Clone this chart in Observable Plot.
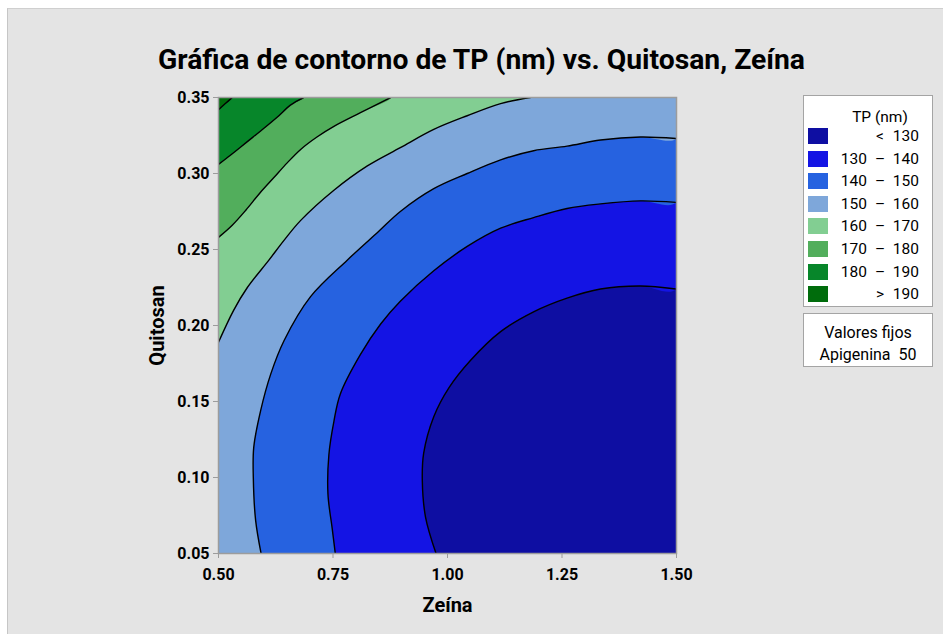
<!DOCTYPE html>
<html lang="es">
<head>
<meta charset="utf-8">
<title>Gráfica de contorno de TP (nm)</title>
<script src="https://cdn.jsdelivr.net/npm/d3@7"></script>
<script src="https://cdn.jsdelivr.net/npm/@observablehq/plot@0.6"></script>
<style>
  html, body { margin: 0; padding: 0; background: #ffffff; }
  #page { position: relative; width: 943px; height: 634px; overflow: hidden; font-family: Roboto, "Noto Sans", sans-serif; }
  #panel { position: absolute; left: 7px; top: 8px; right: 0; bottom: 0; background: #e4e4e4;
           border-left: 1px solid #c6c6c6; border-top: 1px solid #cfcfcf; }
  #title { position: absolute; left: 0; top: 0; }
  #chart { position: absolute; left: 0; top: 0; }
  .box { position: absolute; box-sizing: border-box; background: #ffffff; border: 1px solid #a4a4a4; color: #000; }
  #legend { left: 803px; top: 95px; width: 130px; height: 212px; }
  #fixed { left: 803px; top: 313px; width: 130px; height: 54px; font-size: 16px; text-align: center; line-height: 22px; padding-top: 8px; }
  .lg-head { position: absolute; left: 0; width: 100%; top: 12px; text-align: center; padding-left: 24px; box-sizing: border-box; font-size: 15.5px; }
  .lg-row { position: absolute; left: 0; width: 128px; height: 18px; font-size: 15.5px; line-height: 18px; }
  .lg-sw { position: absolute; left: 4px; top: 1px; width: 20px; height: 16px; }
  .lg-a { position: absolute; right: 65px; text-align: right; }
  .lg-d { position: absolute; left: 70px; width: 12px; text-align: center; }
  .lg-b { position: absolute; right: 13px; text-align: right; }
</style>
</head>
<body>
<div id="page">
  <div id="panel"></div>
  <svg id="title" width="943" height="90"></svg>
  <div id="chart"></div>
  <div id="legend" class="box"></div>
  <div id="fixed" class="box"><div>Valores fijos</div><div>Apigenina&nbsp; 50</div></div>
</div>
<script>
// Contour levels of TP (nm) and the fill colour of each band (< 130 ... > 190)
const levels = [130, 140, 150, 160, 170, 180, 190];
const bandColors = ["#0e0ea2", "#1414e4", "#2662e0", "#7ea7da", "#82ce92", "#52ae5c", "#07862a", "#006c0c"];

// Axis extents and ticks
const zeinaDomain = [0.5, 1.5];
const quitosanDomain = [0.05, 0.35];
const zeinaTicks = [0.5, 0.75, 1.0, 1.25, 1.5];
const quitosanTicks = [0.05, 0.10, 0.15, 0.20, 0.25, 0.30, 0.35];

// Contour lines as [Zeína, Quitosan] points, each running from its
// bottom/left end to its right/top end
const contour130 = [[0.975, 0.050], [0.952, 0.074], [0.945, 0.098], [0.948, 0.116], [0.970, 0.140],
  [1.003, 0.159], [1.050, 0.177], [1.116, 0.196], [1.188, 0.209], [1.261, 0.218], [1.334, 0.224],
  [1.421, 0.226], [1.500, 0.224]];
const contour140 = [[0.755, 0.050], [0.748, 0.067], [0.739, 0.089], [0.741, 0.115], [0.752, 0.137],
  [0.766, 0.155], [0.810, 0.181], [0.854, 0.201], [0.897, 0.216], [0.970, 0.236], [1.043, 0.252],
  [1.116, 0.264], [1.188, 0.271], [1.261, 0.277], [1.334, 0.280], [1.421, 0.282], [1.500, 0.281]];
const contour150 = [[0.593, 0.050], [0.581, 0.072], [0.576, 0.100], [0.577, 0.120], [0.592, 0.144],
  [0.614, 0.168], [0.643, 0.190], [0.701, 0.219], [0.781, 0.243], [0.850, 0.262], [0.897, 0.275],
  [0.970, 0.290], [1.043, 0.300], [1.116, 0.309], [1.188, 0.315], [1.261, 0.318], [1.334, 0.322],
  [1.421, 0.324], [1.500, 0.323]];
const contour160 = [[0.500, 0.189], [0.533, 0.210], [0.563, 0.225], [0.610, 0.243], [0.643, 0.256],
  [0.679, 0.269], [0.752, 0.289], [0.825, 0.305], [0.897, 0.317], [0.970, 0.329], [1.043, 0.338],
  [1.116, 0.346], [1.181, 0.350]];
const contour170 = [[0.500, 0.258], [0.530, 0.266], [0.560, 0.276], [0.590, 0.287], [0.620, 0.297],
  [0.650, 0.307], [0.680, 0.316], [0.715, 0.324], [0.752, 0.331], [0.810, 0.340], [0.876, 0.350]];
const contour180 = [[0.500, 0.306], [0.526, 0.312], [0.563, 0.321], [0.592, 0.328], [0.628, 0.337],
  [0.657, 0.345], [0.686, 0.350]];
const contour190 = [[0.500, 0.342], [0.515, 0.346], [0.530, 0.350]];

const contours = [contour130, contour140, contour150, contour160, contour170, contour180, contour190];

// Region above a level: the contour closed along the frame through the top-left corner
function regionAbove(points) {
  const [x0, x1] = zeinaDomain, [y0, y1] = quitosanDomain;
  const ring = points.map(([x, y]) => ({x, y}));
  const first = ring[0], last = ring[ring.length - 1];
  if (last.x >= x1) ring.push({x: x1, y: y1});
  ring.push({x: x0, y: y1});
  if (first.y <= y0) ring.push({x: x0, y: y0});
  return ring;
}

const fills = contours.map((c, i) =>
  Plot.line(regionAbove(c), {x: "x", y: "y", fill: bandColors[i + 1], stroke: "none", curve: "catmull-rom", clip: true}));
const lines = contours.map((c) =>
  Plot.line(c, {x: (d) => d[0], y: (d) => d[1], stroke: "#000", strokeWidth: 1.4, curve: "catmull-rom", clip: true}));

const chart = Plot.plot({
  width: 720,
  height: 634,
  marginLeft: 218,
  marginRight: 44,
  marginTop: 97,
  marginBottom: 81,
  style: {background: "transparent", color: "#000", fontFamily: "Roboto, 'Noto Sans', sans-serif"},
  x: {domain: zeinaDomain},
  y: {domain: quitosanDomain},
  marks: [
    Plot.frame({fill: bandColors[0], stroke: "none"}),
    ...fills,
    ...lines,
    Plot.frame({stroke: "#9c9c9c", strokeWidth: 1.5}),
    Plot.axisX({ticks: zeinaTicks, tickFormat: (d) => d.toFixed(2), tickSize: 5, tickPadding: 10,
      stroke: "#9c9c9c", fill: "#000", fontSize: 16, fontWeight: "bold", label: null}),
    Plot.axisY({ticks: quitosanTicks, tickFormat: (d) => d.toFixed(2), tickSize: 5, tickPadding: 4,
      stroke: "#9c9c9c", fill: "#000", fontSize: 16, fontWeight: "bold", label: null}),
    Plot.text(["Zeína"], {frameAnchor: "bottom", dy: 58, text: (d) => d, fontSize: 20, fontWeight: "bold", fill: "#000"}),
    Plot.text(["Quitosan"], {frameAnchor: "left", dx: -61, rotate: -90, textAnchor: "middle", text: (d) => d,
      fontSize: 20, fontWeight: "bold", fill: "#000"})
  ]
});
document.getElementById("chart").appendChild(chart);

// Title
const title = d3.select("#title");
title.append("text")
  .attr("x", 481.5).attr("y", 69)
  .attr("text-anchor", "middle")
  .attr("textLength", 647).attr("lengthAdjust", "spacingAndGlyphs")
  .style("font-family", "Roboto, 'Noto Sans', sans-serif")
  .style("font-weight", "bold").style("font-size", "28px")
  .text("Gráfica de contorno de TP (nm) vs. Quitosan, Zeína");

// Legend: one row per band, built from the levels and colours
const legend = d3.select("#legend");
legend.append("div").attr("class", "lg-head").text("TP (nm)");
const rows = bandColors.map((color, i) => ({
  color,
  lo: i === 0 ? null : levels[i - 1],
  hi: i === levels.length ? null : levels[i]
}));
rows.forEach((r, i) => {
  const row = legend.append("div").attr("class", "lg-row").style("top", `${31 + i * 22.6}px`);
  row.append("div").attr("class", "lg-sw").style("background", r.color);
  if (r.lo == null) {
    row.append("span").attr("class", "lg-d").text("<");
    row.append("span").attr("class", "lg-b").text(r.hi);
  } else if (r.hi == null) {
    row.append("span").attr("class", "lg-d").text(">");
    row.append("span").attr("class", "lg-b").text(r.lo);
  } else {
    row.append("span").attr("class", "lg-a").text(r.lo);
    row.append("span").attr("class", "lg-d").text("–");
    row.append("span").attr("class", "lg-b").text(r.hi);
  }
});
</script>
</body>
</html>
